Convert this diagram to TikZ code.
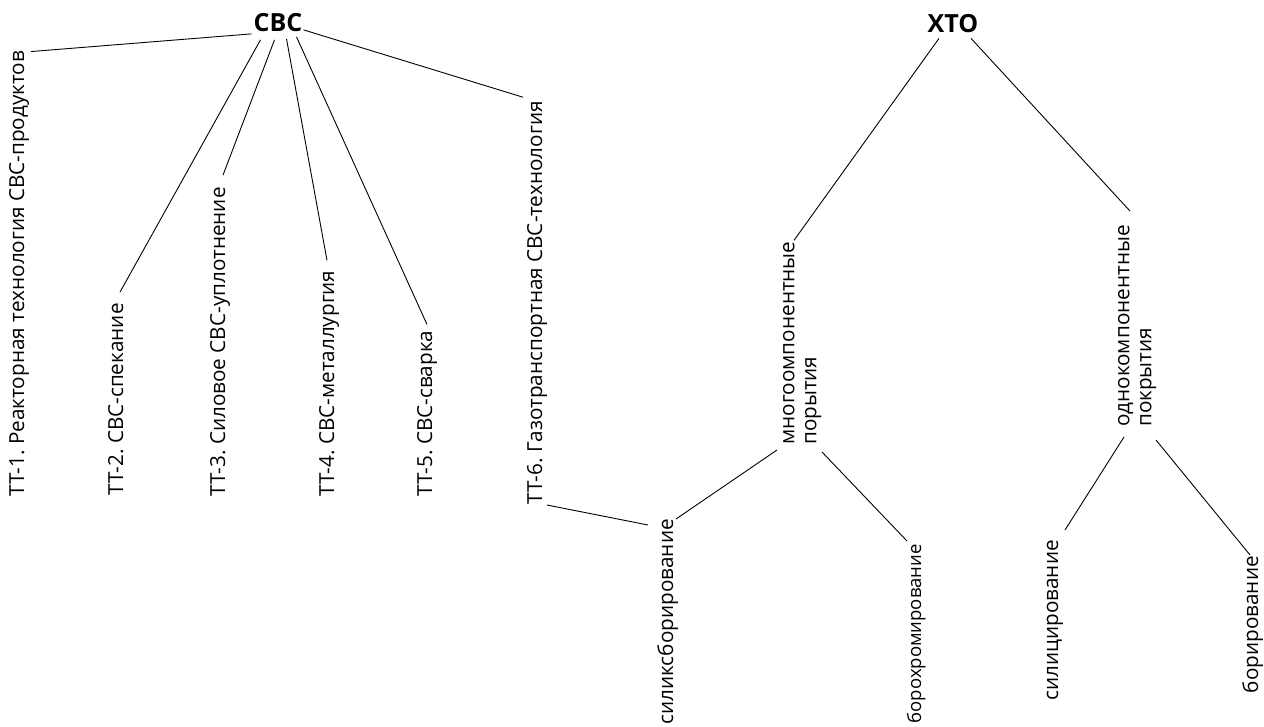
\documentclass[tikz,border=0pt]{standalone}
\usepackage{fontspec}
\setmainfont{Open Sans}
\frenchspacing
\begin{document}
\begin{tikzpicture}[x=1pt,y=1pt,
  lbl/.style={rotate=90, inner sep=0pt, font=\fontsize{20.7}{22}\selectfont},
  ttl/.style={inner sep=2pt, font=\fontsize{25}{28}\selectfont\bfseries},
  conn/.style={draw=black, line width=0.9pt}]
\useasboundingbox[fill=white] (0,0) rectangle (1264,-726);
% titles
\node[ttl] (svc) at (278,-22.5) {СВС};
\node[ttl] (xto) at (953,-24) {ХТО};
% SHS branches
\node[lbl,anchor=base west] (t1) at (24,-497) {ТТ-1. Реакторная технология СВС-продуктов};
\node[lbl,anchor=base west] (t2) at (123,-496) {ТТ-2. СВС-спекание};
\node[lbl,anchor=base west] (t3) at (225,-497) {ТТ-3. Силовое СВС-уплотнение};
\node[lbl,anchor=base west] (t4) at (334,-497) {ТТ-4. СВС-металлургия};
\node[lbl,anchor=base west] (t5) at (432,-497) {ТТ-5. СВС-сварка};
\node[lbl,anchor=base west] (t6) at (542,-505) {ТТ-6. Газотранспортная СВС-технология};
% CHT branches
\node[lbl,align=left,anchor=north west] (m) at (783,-445) {многоомпонентные\\порытия};
\node[lbl,align=left,anchor=north west] (o) at (1118,-427) {однокомпонентные\\покрытия};
\node[lbl,anchor=base east] (s1) at (673,-519) {силиксборирование};
\node[lbl,anchor=base east,font=\fontsize{18.5}{22}\selectfont] (b1) at (921,-544) {борохромирование};
\node[lbl,anchor=base east] (s2) at (1058,-540) {силицирование};
\node[lbl,anchor=base east] (b2) at (1258,-556) {борирование};
% connectors
\draw[conn] (svc.south west) -- ([xshift=7pt,yshift=-1pt]t1.base east);
\draw[conn] ([xshift=-17.5pt,yshift=-6pt]svc.south) -- ([xshift=-3pt,yshift=11pt]t2.base east);
\draw[conn] ([xshift=-3.5pt,yshift=-6pt]svc.south) -- ([xshift=-2pt,yshift=12pt]t3.base east);
\draw[conn] ([xshift=8.5pt,yshift=-5pt]svc.south) -- ([xshift=-7pt,yshift=10pt]t4.base east);
\draw[conn] ([xshift=18.5pt,yshift=-3pt]svc.south) -- ([xshift=-5pt,yshift=6pt]t5.base east);
\draw[conn] ([xshift=-1pt,yshift=4pt]svc.south east) -- ([xshift=-19pt,yshift=4pt]t6.base east);
\draw[conn] ([xshift=5pt]t6.base west) -- ([xshift=-25pt,yshift=-6pt]s1.base east);
\draw[conn] ([xshift=3pt,yshift=0pt]s1.base east) -- ([xshift=-6pt,yshift=-5pt]m.north west);
\draw[conn] ([xshift=39pt,yshift=-7pt]m.north west) -- ([xshift=-14pt,yshift=3pt]b1.base east);
\draw[conn] ([xshift=-14pt,yshift=-3pt]xto.south) -- ([xshift=11pt,yshift=1pt]m.north east);
\draw[conn] ([xshift=18pt,yshift=-3pt]xto.south) -- ([xshift=12pt,yshift=14pt]o.north east);
\draw[conn] ([xshift=6pt,yshift=-10pt]o.north west) -- ([xshift=7pt,yshift=10pt]s2.base east);
\draw[conn] ([xshift=38pt,yshift=-13pt]o.north west) -- ([xshift=-8pt,yshift=1pt]b2.base east);
\end{tikzpicture}
\end{document}
